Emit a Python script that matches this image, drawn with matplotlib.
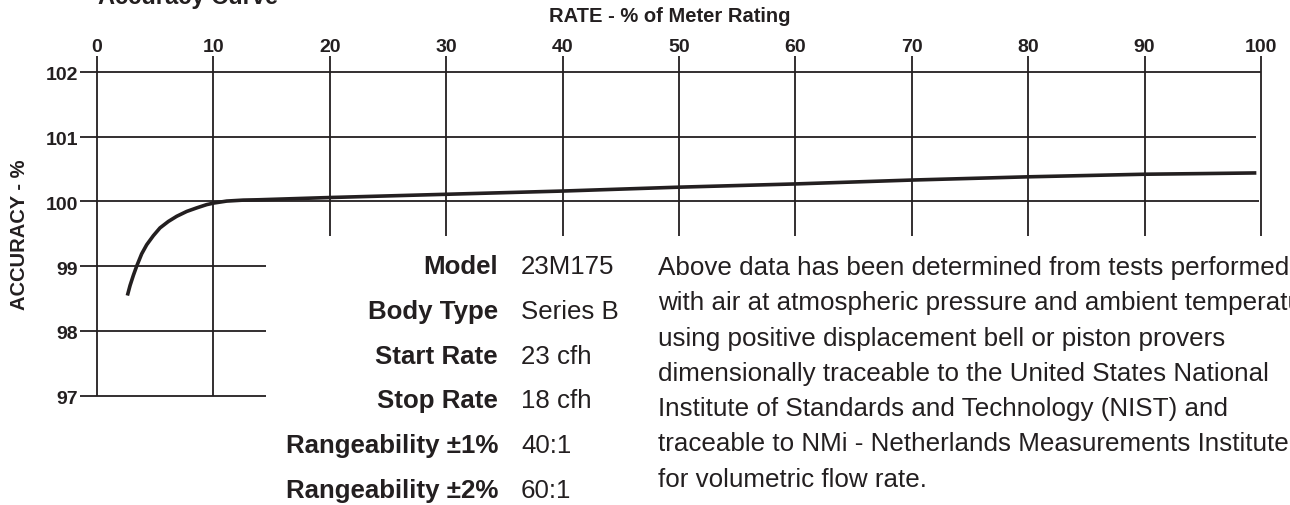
"""Accuracy curve for the 23M175 Series B meter, drawn as a spec-sheet panel."""

import matplotlib

matplotlib.use("Agg")
import matplotlib.pyplot as plt
from matplotlib import transforms

# Curve: rate (% of meter rating) vs accuracy (%)
rate = [2.61, 2.84, 3.12, 3.41, 3.84, 4.27, 4.84, 5.41, 6.13, 6.85, 7.71, 8.57, 9.42,
        10.05, 11.14, 12.57, 13.86, 20, 30, 40, 50, 60, 70, 80, 90, 95, 99.6]
accuracy = [98.545, 98.70, 98.855, 99.0, 99.19, 99.33, 99.47, 99.59, 99.69, 99.77, 99.845,
            99.90, 99.95, 99.975, 100.005, 100.02, 100.025, 100.06, 100.11, 100.16, 100.22,
            100.27, 100.33, 100.38, 100.42, 100.43, 100.44]

x_ticks = [0, 10, 20, 30, 40, 50, 60, 70, 80, 90, 100]
y_ticks = [97, 98, 99, 100, 101, 102]

spec_labels = ["Model", "Body Type", "Start Rate", "Stop Rate",
               "Rangeability \u00b11%", "Rangeability \u00b12%"]
spec_values = ["23M175", "Series B", "23 cfh", "18 cfh", "40:1", "60:1"]

note_lines = [
    "Above data has been determined from tests performed",
    "with air at atmospheric pressure and ambient temperature",
    "using positive displacement bell or piston provers",
    "dimensionally traceable to the United States National",
    "Institute of Standards and Technology (NIST) and",
    "traceable to NMi - Netherlands Measurements Institute",
    "for volumetric flow rate.",
]

INK = "#231f20"
W, H = 1290, 506

plt.rcParams["font.family"] = ["Liberation Sans", "DejaVu Sans"]

fig = plt.figure(figsize=(W / 100, H / 100), dpi=100)
# axes placed so 0..100 / 97..102 land where the printed grid is
ax = fig.add_axes([97 / W, 1 - 396.5 / H, (1261 - 97) / W, (396.5 - 73) / H])
ax.set_xlim(0, 100)
ax.set_ylim(97, 102)
ax.axis("off")

# grid: left part runs down to 97, the rest stops just under 100
for xv in x_ticks:
    bottom = 97 if xv <= 10 else 99.46
    ax.plot([xv, xv], [bottom, 102.24], color=INK, lw=1.3, clip_on=False,
            solid_capstyle="butt")
for yv in y_ticks:
    if yv >= 100:
        right = {100: 99.8, 101: 99.6, 102: 100}[yv]
    else:
        right = 14.5
    ax.plot([-1.45, right], [yv, yv], color=INK, lw=1.3, clip_on=False,
            solid_capstyle="butt")

ax.plot(rate, accuracy, color=INK, lw=2.6, clip_on=False,
        solid_capstyle="butt", solid_joinstyle="round")

# tick labels
xlab_tr = transforms.blended_transform_factory(ax.transData, fig.transFigure)
for xv in x_ticks:
    ax.text(xv, 1 - 52 / H, str(xv), transform=xlab_tr, ha="center", va="baseline",
            fontsize=14, fontweight="bold", color=INK)
ylab_tr = transforms.offset_copy(ax.transData, fig=fig, x=-2, y=-7.5, units="dots")
for yv in y_ticks:
    ax.text(-1.45, yv, str(yv), transform=ylab_tr, ha="right", va="baseline",
            fontsize=14, fontweight="bold", color=INK)

fig.text(670 / W, 1 - 21.5 / H, "RATE - % of Meter Rating", ha="center", va="baseline",
         fontsize=14.5, fontweight="bold", color=INK)
fig.text(20 / W, 1 - 235 / H, "ACCURACY - %", rotation=90, ha="center", va="center",
         fontsize=14.5, fontweight="bold", color=INK)
fig.text(98 / W, 1 - 4 / H, "Accuracy Curve", ha="left", va="baseline",
         fontsize=17, fontweight="bold", color=INK)

# spec block
for i, (lab, val) in enumerate(zip(spec_labels, spec_values)):
    base = 274.3 + i * 44.7
    fig.text(498 / W, 1 - base / H, lab, ha="right", va="baseline",
             fontsize=18.6, fontweight="bold", color=INK)
    fig.text(521 / W, 1 - base / H, val, ha="left", va="baseline",
             fontsize=18.6, color=INK)

# note paragraph, runs off the right edge like the sheet
for i, line in enumerate(note_lines):
    base = 275 + i * 35.3
    fig.text(658 / W, 1 - base / H, line, ha="left", va="baseline",
             fontsize=18.7, color=INK)

fig.savefig("out.png", dpi=100)
